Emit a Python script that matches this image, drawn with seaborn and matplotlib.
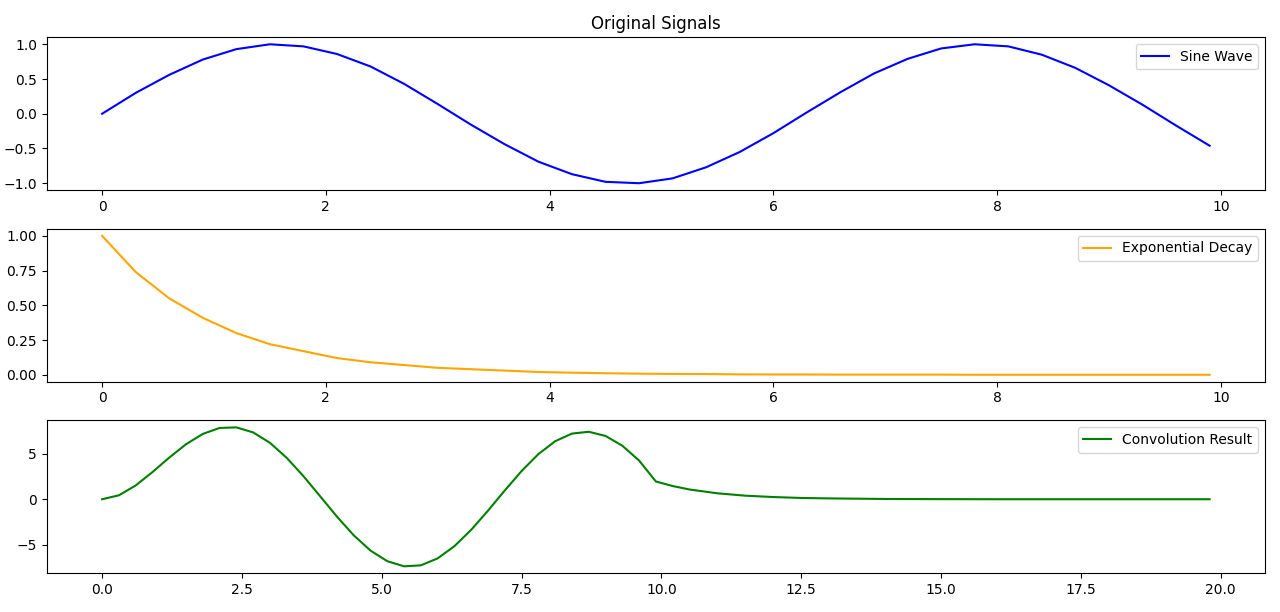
import numpy as np
import pandas as pd
import matplotlib
matplotlib.use('Agg')
import matplotlib.pyplot as plt
import seaborn as sns

x_sig = [round(0.3 * i, 1) for i in range(34)]
sine_vals = [0, 0.30, 0.56, 0.78, 0.93, 1.0, 0.97, 0.86, 0.68, 0.43, 0.14, -0.16, -0.44, -0.69,
             -0.87, -0.98, -1.0, -0.93, -0.77, -0.55, -0.28, 0.02, 0.31, 0.58, 0.79, 0.94, 1.0,
             0.97, 0.85, 0.66, 0.41, 0.13, -0.17, -0.46]
exp_vals = [1.0, 0.74, 0.55, 0.41, 0.30, 0.22, 0.17, 0.12, 0.09, 0.07, 0.05, 0.04, 0.03, 0.02,
            0.015, 0.011, 0.008, 0.006, 0.005, 0.003, 0.002, 0.002, 0.001, 0.001, 0.001, 0.001,
            0, 0, 0, 0, 0, 0, 0, 0]
x_conv = x_sig + [10.2, 10.5, 11.0, 11.5, 12.0, 12.5, 13.0, 14.0, 15.0, 16.0, 17.0, 18.0, 19.8]
conv_vals = [0, 0.43, 1.51, 2.98, 4.57, 6.04, 7.17, 7.83, 7.89, 7.34, 6.20, 4.55, 2.53, 0.31,
             -1.92, -3.97, -5.65, -6.81, -7.37, -7.26, -6.49, -5.15, -3.35, -1.25, 0.97, 3.10,
             4.96, 6.37, 7.21, 7.41, 6.95, 5.88, 4.25, 1.95,
             1.45, 1.07, 0.65, 0.39, 0.24, 0.14, 0.09, 0.03, 0.01, 0, 0, 0, 0]

fig, axes = plt.subplots(nrows=3, ncols=1, figsize=[12.8, 6.12], dpi=100)

sns.lineplot(x=x_sig, y=sine_vals, ax=axes[0], color='blue', label='Sine Wave')
axes[0].set_title('Original Signals')
sns.lineplot(x=x_sig, y=exp_vals, ax=axes[1], color='orange', label='Exponential Decay')
sns.lineplot(x=x_conv, y=conv_vals, ax=axes[2], color='green', label='Convolution Result')

axes[0].set_xlim(-0.495, 10.395)
axes[1].set_xlim(-0.495, 10.395)
axes[2].set_xlim(-0.99, 20.79)

for ax in axes:
    ax.legend(loc='upper right')

plt.tight_layout()
fig.savefig('out.png')
